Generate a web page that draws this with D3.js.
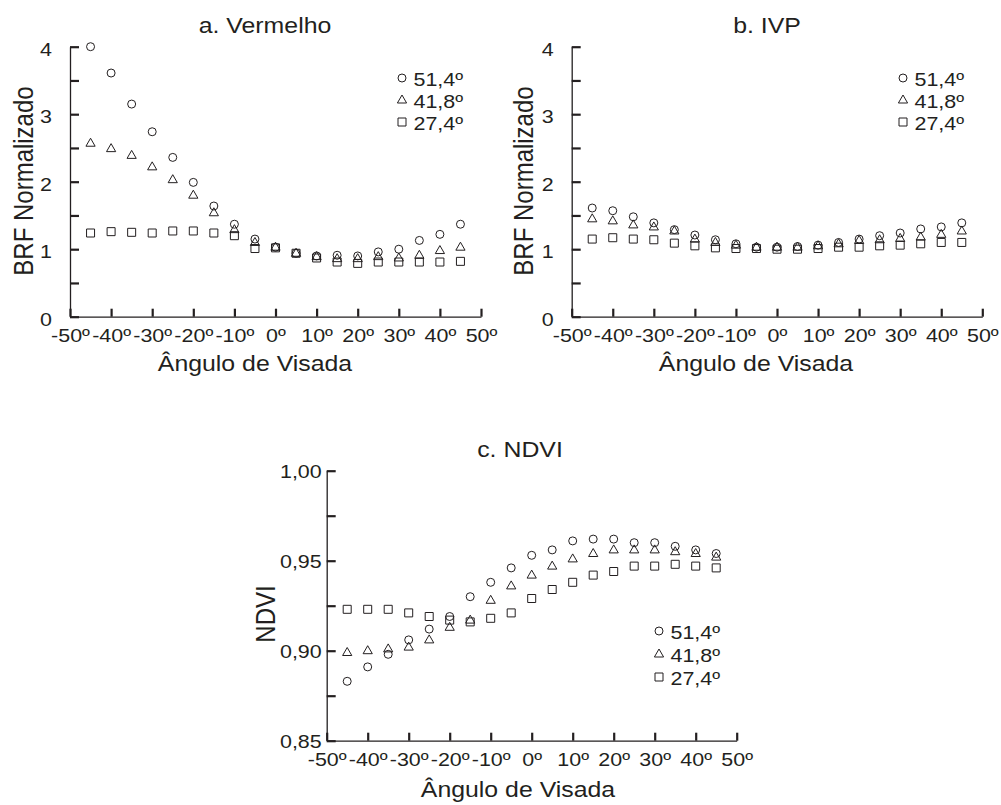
<!DOCTYPE html>
<html>
<head>
<meta charset="utf-8">
<script src="https://cdn.jsdelivr.net/npm/d3@7"></script>
<style>
  body { margin: 0; background: #fff; }
  svg text { font-family: "Liberation Sans", Arial, sans-serif; fill: #231f20; }
</style>
</head>
<body>
<svg id="chart" width="1001" height="805"></svg>
<script>
// viewing angles (degrees)
var angles = [-45, -40, -35, -30, -25, -20, -15, -10, -5, 0, 5, 10, 15, 20, 25, 30, 35, 40, 45];
var sunLabels = ['51,4º', '41,8º', '27,4º'];

// a. Vermelho (BRF normalizado)
var redC = [4.00, 3.61, 3.15, 2.74, 2.36, 1.99, 1.64, 1.37, 1.15, 1.03, 0.94, 0.90, 0.91, 0.90, 0.96, 1.00, 1.13, 1.22, 1.37];
var redT = [2.57, 2.49, 2.39, 2.22, 2.03, 1.80, 1.54, 1.29, 1.10, 1.03, 0.94, 0.89, 0.86, 0.86, 0.89, 0.87, 0.91, 0.98, 1.03];
var redS = [1.24, 1.26, 1.25, 1.24, 1.27, 1.27, 1.24, 1.20, 1.01, 1.02, 0.94, 0.87, 0.81, 0.79, 0.81, 0.81, 0.81, 0.81, 0.82];

// b. IVP
var nirC = [1.61, 1.57, 1.48, 1.39, 1.29, 1.21, 1.14, 1.08, 1.03, 1.03, 1.04, 1.06, 1.10, 1.15, 1.20, 1.24, 1.30, 1.33, 1.39];
var nirT = [1.45, 1.42, 1.36, 1.33, 1.27, 1.15, 1.10, 1.06, 1.03, 1.03, 1.03, 1.05, 1.08, 1.13, 1.14, 1.16, 1.18, 1.22, 1.27];
var nirS = [1.15, 1.17, 1.15, 1.14, 1.09, 1.05, 1.02, 1.01, 1.01, 1.00, 1.00, 1.01, 1.03, 1.03, 1.05, 1.06, 1.08, 1.10, 1.10];

// c. NDVI
var ndviC = [0.883, 0.891, 0.898, 0.906, 0.912, 0.919, 0.930, 0.938, 0.946, 0.953, 0.956, 0.961, 0.962, 0.962, 0.960, 0.960, 0.958, 0.956, 0.954];
var ndviT = [0.899, 0.900, 0.901, 0.902, 0.906, 0.913, 0.917, 0.928, 0.936, 0.942, 0.947, 0.951, 0.954, 0.956, 0.956, 0.956, 0.955, 0.954, 0.952];
var ndviS = [0.923, 0.923, 0.923, 0.921, 0.919, 0.917, 0.916, 0.918, 0.921, 0.929, 0.934, 0.938, 0.942, 0.944, 0.947, 0.947, 0.948, 0.947, 0.946];

var xTicks = [-50, -40, -30, -20, -10, 0, 10, 20, 30, 40, 50];
var xTickLabels = ['-50º', '-40º', '-30º', '-20º', '-10º', '0º', '10º', '20º', '30º', '40º', '50º'];
var brfTicks = [0, 0.5, 1, 1.5, 2, 2.5, 3, 3.5, 4];
var brfTickLabels = ['0', '', '1', '', '2', '', '3', '', '4'];
var ndviTicks = [0.85, 0.875, 0.9, 0.925, 0.95, 0.975, 1.0];
var ndviTickLabels = ['0,85', '', '0,90', '', '0,95', '', '1,00'];

var ink = '#231f20';
var SX = 1.13;   // the original lettering is a bit wide
var svg = d3.select('#chart');

var markers = [
  'M4,0A4,4 0 1,1 -4,0A4,4 0 1,1 4,0Z',
  'M0,-5L4.6,3L-4.6,3Z',
  'M-4,-4H4V4H-4Z'
];

var panels = [
  {title: 'a. Vermelho', titleX: 265, titleY: 33, left: 70, right: 481, top: 46.7, bottom: 316.7,
   yDomain: [0, 4], yTicks: brfTicks, yTickLabels: brfTickLabels, yPad: 16, yDy: '0.45em',
   series: [redC, redT, redS], yLabel: 'BRF Normalizado', yLabelX: 33, yLabelY: 181,
   xLabelX: 255, xLabelY: 371, legX: 402, legY: [78, 100, 122]},
  {title: 'b. IVP', titleX: 767, titleY: 33, left: 571.7, right: 982.3, top: 46.7, bottom: 316.7,
   yDomain: [0, 4], yTicks: brfTicks, yTickLabels: brfTickLabels, yPad: 16, yDy: '0.45em',
   series: [nirC, nirT, nirS], yLabel: 'BRF Normalizado', yLabelX: 533, yLabelY: 181,
   xLabelX: 756, xLabelY: 371, legX: 903, legY: [78, 100, 122]},
  {title: 'c. NDVI', titleX: 520, titleY: 457, left: 326.7, right: 736.7, top: 470.7, bottom: 740.7,
   yDomain: [0.85, 1.0], yTicks: ndviTicks, yTickLabels: ndviTickLabels, yPad: 4.4, yDy: '0.38em',
   series: [ndviC, ndviT, ndviS], yLabel: 'NDVI', yLabelX: 275, yLabelY: 614,
   xLabelX: 518, xLabelY: 797, legX: 659, legY: [631, 654, 677]}
];

function addText(x, y, str, size, anchor, rotated) {
  return svg.append('text')
    .attr('transform', 'translate(' + x + ',' + y + ')' +
      (rotated ? ' rotate(-90) scale(1,' + SX + ')' : ' scale(' + SX + ',1)'))
    .attr('text-anchor', anchor)
    .style('font-size', size + 'px')
    .text(str);
}

function drawPanel(p) {
  var x = d3.scaleLinear().domain([-50, 50]).range([p.left, p.right]);
  var y = d3.scaleLinear().domain(p.yDomain).range([p.bottom, p.top]);

  var gx = svg.append('g')
    .attr('transform', 'translate(0,' + p.bottom + ')')
    .call(d3.axisBottom(x).tickValues(xTicks)
      .tickFormat(function (d, i) { return xTickLabels[i]; })
      .tickSizeInner(-8).tickSizeOuter(0));

  var gy = svg.append('g')
    .attr('transform', 'translate(' + p.left + ',0)')
    .call(d3.axisLeft(y).tickValues(p.yTicks)
      .tickFormat(function (d, i) { return p.yTickLabels[i]; })
      .tickSizeInner(-9).tickSizeOuter(0).tickPadding(p.yPad));

  [gx, gy].forEach(function (g) {
    g.select('.domain').attr('stroke', ink).attr('stroke-width', 1.3);
    g.selectAll('.tick line').attr('stroke', ink).attr('stroke-width', 2.2);
    g.selectAll('.tick text').attr('fill', ink)
      .style('font-size', '19px')
      .style('font-family', '"Liberation Sans", Arial, sans-serif')
      .attr('transform', 'scale(' + SX + ',1)');
  });
  gx.selectAll('.tick text').attr('y', 25).attr('dy', null);
  gy.selectAll('.tick text').attr('dy', p.yDy);

  p.series.forEach(function (vals, i) {
    svg.append('g')
      .selectAll('path')
      .data(angles.map(function (a, j) { return [a, vals[j]]; }))
      .join('path')
      .attr('transform', function (d) { return 'translate(' + x(d[0]) + ',' + y(d[1]) + ')'; })
      .attr('d', markers[i])
      .attr('fill', 'none')
      .attr('stroke', ink)
      .attr('stroke-width', 1);
  });

  // legend
  sunLabels.forEach(function (lab, i) {
    svg.append('path')
      .attr('transform', 'translate(' + p.legX + ',' + p.legY[i] + ')')
      .attr('d', markers[i])
      .attr('fill', 'none')
      .attr('stroke', ink)
      .attr('stroke-width', 1);
    addText(p.legX + 11.5, p.legY[i] + 8, lab, 19, 'start');
  });

  addText(p.titleX, p.titleY, p.title, 22, 'middle');
  addText(p.xLabelX, p.xLabelY, 'Ângulo de Visada', 22, 'middle');
  addText(p.yLabelX, p.yLabelY, p.yLabel, 24, 'middle', true);
}

panels.forEach(drawPanel);
</script>
</body>
</html>
